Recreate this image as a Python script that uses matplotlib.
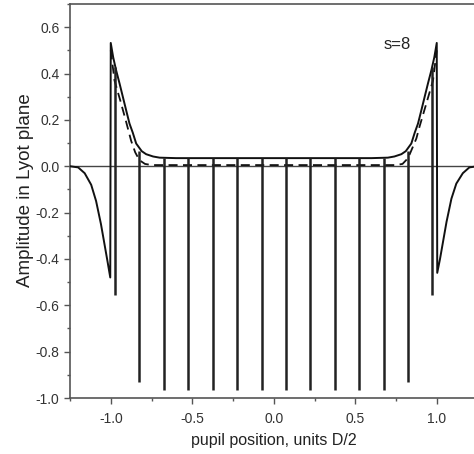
import matplotlib
matplotlib.use("Agg")
import matplotlib.pyplot as plt
from matplotlib.ticker import MultipleLocator, FormatStrFormatter

plt.rcParams["font.family"] = ["Liberation Sans", "DejaVu Sans"]
plt.rcParams["axes.unicode_minus"] = False

# solid curve, smooth part (spikes drawn separately below)
solid_x = [-1.25, -1.20, -1.16, -1.12, -1.09, -1.06, -1.04, -1.02, -1.003,
           -1.0, -0.985, -0.967, -0.946, -0.926, -0.905, -0.885, -0.865,
           -0.844, -0.81, -0.783, -0.74, -0.70, -0.60,
           0.60, 0.70, 0.74, 0.783, 0.81, 0.844, 0.865, 0.885, 0.905,
           0.926, 0.946, 0.967, 0.985, 1.0,
           1.003, 1.02, 1.04, 1.06, 1.09, 1.12, 1.16, 1.20, 1.25]
solid_y = [0.0, -0.005, -0.03, -0.08, -0.15, -0.25, -0.33, -0.41, -0.48,
           0.532, 0.47, 0.414, 0.357, 0.30, 0.24, 0.184, 0.145,
           0.098, 0.065, 0.052, 0.042, 0.037, 0.035,
           0.035, 0.037, 0.042, 0.052, 0.065, 0.098, 0.145, 0.184, 0.24,
           0.30, 0.357, 0.414, 0.47, 0.532,
           -0.46, -0.40, -0.32, -0.24, -0.14, -0.075, -0.03, -0.005, 0.0]

# dashed curve
dash_x = [-1.0, -0.977, -0.94, -0.905, -0.875, -0.85, -0.824, -0.79, -0.75, -0.60,
          0.60, 0.75, 0.79, 0.824, 0.853, 0.875, 0.894, 0.94, 0.977, 1.0]
dash_y = [0.50, 0.37, 0.28, 0.19, 0.11, 0.06, 0.026, 0.01, 0.005, 0.005,
          0.005, 0.005, 0.01, 0.035, 0.083, 0.12, 0.17, 0.28, 0.37, 0.50]

# narrow negative spikes of the solid curve
spike_x = [-0.975, -0.825, -0.675, -0.525, -0.375, -0.225, -0.075,
           0.075, 0.225, 0.375, 0.525, 0.675, 0.825, 0.972]
spike_top = [0.43, 0.065, 0.037, 0.035, 0.035, 0.035, 0.035,
             0.035, 0.035, 0.035, 0.035, 0.037, 0.065, 0.43]
spike_low = [-0.557, -0.93, -0.967, -0.967, -0.967, -0.967, -0.967,
             -0.967, -0.967, -0.967, -0.967, -0.967, -0.93, -0.557]

fig = plt.figure(figsize=(4.74, 4.54), dpi=100)
ax = fig.add_axes([70/474, 56/454, 407.5/474, 394/454])

ax.axhline(0, color="#444444", lw=1.0, zorder=1)
ax.plot(dash_x, dash_y, color="#111111", lw=1.3, dashes=(5, 3), zorder=2)
ax.plot(solid_x, solid_y, color="#111111", lw=1.4, zorder=3)
ax.vlines(spike_x, spike_low, spike_top, color="#222222", lw=1.8, zorder=3)

ax.text(0.76, 0.527, "s=8", fontsize=12, ha="center", va="center", color="#222222")

ax.set_xlim(-1.25, 1.25)
ax.set_ylim(-1.0, 0.7)
ax.xaxis.set_major_locator(MultipleLocator(0.5))
ax.xaxis.set_minor_locator(MultipleLocator(0.25))
ax.yaxis.set_major_locator(MultipleLocator(0.2))
ax.yaxis.set_minor_locator(MultipleLocator(0.1))
ax.xaxis.set_major_formatter(FormatStrFormatter("%.1f"))
ax.yaxis.set_major_formatter(FormatStrFormatter("%.1f"))
ax.set_yticks([-1.0, -0.8, -0.6, -0.4, -0.2, 0.0, 0.2, 0.4, 0.6])

ax.tick_params(which="major", direction="out", length=4, width=1, colors="#555555",
               labelcolor="#333333", labelsize=10)
ax.tick_params(axis="x", which="major", pad=6)
ax.tick_params(which="minor", direction="out", length=2.5, width=1, colors="#555555")

for sp in ax.spines.values():
    sp.set_color("#555555")
    sp.set_linewidth(1.2)

ax.set_xlabel("pupil position, units D/2", fontsize=11.5, color="#222222", labelpad=5)
ax.set_ylabel("Amplitude in Lyot plane", fontsize=13.5, color="#222222")
ax.yaxis.set_label_coords(-0.088, 0.528)

fig.savefig("out.png", dpi=100)
